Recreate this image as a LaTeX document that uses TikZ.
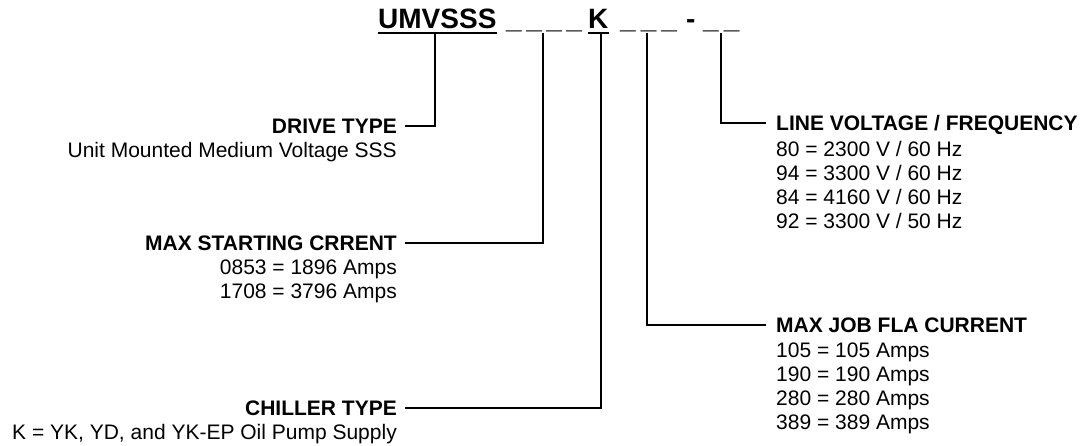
\documentclass[tikz,border=0pt]{standalone}
\usepackage{fontspec}
\setmainfont{Liberation Sans}
\usetikzlibrary{positioning,calc}
\tikzset{
  codepart/.style={font=\fontsize{28}{30}\selectfont\bfseries,inner sep=0pt,
    anchor=base west},
  fieldhead/.style={font=\fontsize{21}{24}\selectfont\bfseries,inner sep=0pt,
    text height=15pt,text depth=0pt},
  fieldtext/.style={font=\fontsize{21}{24}\selectfont,inner sep=0pt},
  lead/.style={line width=2pt,black},
  ubar/.style={line width=2pt,black},
}

\begin{document}
\begin{tikzpicture}[x=1pt,y=-1pt]
  \useasboundingbox (0,0) rectangle (1086,446);
  \node[codepart] (pfx) at (378,29) {UMVSSS};
  \node[codepart] (cur) at (506,29) {\_\kern4.5pt\_\kern4.5pt\_\kern4.5pt\_};
  \node[codepart] (chl) at (588,29) {K};
  \node[codepart] (fla) at (620,29) {\_\kern5pt\_\kern5pt\_};
  \node[codepart] (dsh) at (686,29) {-};
  \node[codepart] (vlt) at (703,29) {\_\kern5pt\_};
  \draw[ubar] ([yshift=-4pt]pfx.base west) -- ([yshift=-4pt]pfx.base east);
  \draw[ubar] ([yshift=-4pt]chl.base west) -- ([yshift=-4pt]chl.base east);
  \coordinate (t-pfx) at (435,33);
  \coordinate (t-cur) at (543,33);
  \coordinate (t-chl) at (601,33);
  \coordinate (t-fla) at (647,33);
  \coordinate (t-vlt) at (721,33);

  \node[fieldhead,anchor=base east] (drv-h) at (397,133.5) {DRIVE TYPE};
  \node[fieldtext,anchor=base east] (drv-d) at (397,157.5)
    {Unit Mounted Medium Voltage SSS};
  \node[fieldhead,anchor=base east] (cur-h) at (397,250.5) {MAX STARTING CRRENT};
  \node[fieldtext,anchor=base east,align=right] (cur-d) at (397,298)
    {0853 = 1896 Amps\\1708 = 3796 Amps};
  \node[fieldhead,anchor=base east] (chl-h) at (397,415.5) {CHILLER TYPE};
  \node[fieldtext,anchor=base east] (chl-d) at (397,439.5)
    {K = YK, YD, and YK-EP Oil Pump Supply};
  \node[fieldhead,anchor=base west] (vlt-h) at (776,130.5) {LINE VOLTAGE / FREQUENCY};
  \node[fieldtext,anchor=base west,align=left] (vlt-d) at (776,229)
    {80 = 2300 V / 60 Hz\\94 = 3300 V / 60 Hz\\84 = 4160 V / 60 Hz\\92 = 3300 V / 50 Hz};
  \node[fieldhead,anchor=base west] (fla-h) at (776,332.5) {MAX JOB FLA CURRENT};
  \node[fieldtext,anchor=base west,align=left] (fla-d) at (776,429)
    {105 = 105 Amps\\190 = 190 Amps\\280 = 280 Amps\\389 = 389 Amps};

  \draw[lead] ([xshift=8pt]drv-h.east) -| (t-pfx);
  \draw[lead] ([xshift=8pt]cur-h.east) -| (t-cur);
  \draw[lead] ([xshift=8pt]chl-h.east) -| (t-chl);
  \draw[lead] ([xshift=-10pt]fla-h.west) -| (t-fla);
  \draw[lead] ([xshift=-10pt]vlt-h.west) -| (t-vlt);
\end{tikzpicture}
\end{document}
